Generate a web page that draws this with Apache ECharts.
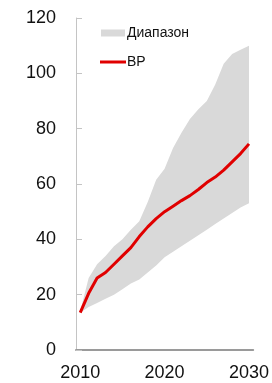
<!DOCTYPE html>
<html>
<head>
<meta charset="utf-8">
<script src="https://cdn.jsdelivr.net/npm/echarts@6/dist/echarts.min.js"></script>
<style>
    html, body { margin: 0; padding: 0; background: #fff; }
    #chart { width: 272px; height: 383px; }
</style>
</head>
<body>
<div id="chart"></div>
<script>
// годы
var years = ['2010', '2011', '2012', '2013', '2014', '2015', '2016', '2017', '2018', '2019', '2020',
    '2021', '2022', '2023', '2024', '2025', '2026', '2027', '2028', '2029', '2030'];
// прогноз BP
var bp = [13.5, 20.5, 26, 28, 31, 34, 37, 41, 44.5, 47.5, 50,
    52, 54, 55.8, 58, 60.5, 62.5, 65, 68, 71, 74.5];
// диапазон: нижняя и верхняя граница
var low = [13.5, 15.5, 17, 18.5, 20, 22, 24, 25.5, 28, 30.5, 33.5,
    35.5, 37.5, 39.5, 41.5, 43.5, 45.5, 47.5, 49.5, 51.5, 53];
var high = [14, 26, 31, 34, 37.5, 40, 43.5, 46.5, 53.5, 61.5, 65.5,
    73, 78.5, 83.5, 87, 90, 96, 103.5, 107, 108.5, 110];
var yTicks = [0, 20, 40, 60, 80, 100, 120];

var span = high.map(function (v, i) { return v - low[i]; });

var myChart = echarts.init(document.getElementById('chart'));
var font = 'Liberation Sans, Arial, sans-serif';

myChart.setOption({
    animation: false,
    textStyle: { fontFamily: font },
    grid: { left: 76, right: 18, top: 18, bottom: 33 },
    legend: [{
        data: ['Диапазон'],
        padding: 0,
        left: 101, top: 26,
        icon: 'rect',
        itemWidth: 24, itemHeight: 7,
        textStyle: { fontSize: 14, color: '#111', fontFamily: font, padding: [0, 0, 0, -3] }
    }, {
        data: ['BP'],
        padding: 0,
        left: 100, top: 55,
        icon: 'rect',
        itemWidth: 26, itemHeight: 3,
        textStyle: { fontSize: 14, color: '#111', fontFamily: font, padding: [0, 0, 0, -4] }
    }],
    xAxis: {
        type: 'category',
        data: years,
        boundaryGap: true,
        axisLine: { lineStyle: { color: '#9a9a9a', width: 2 } },
        axisTick: { show: false },
        axisLabel: { interval: 9, fontSize: 18, color: '#111', margin: 14 }
    },
    yAxis: {
        type: 'value',
        min: yTicks[0], max: yTicks[yTicks.length - 1], interval: 20,
        axisLine: { show: true, lineStyle: { color: '#c4c4c4', width: 1 } },
        axisTick: { show: true, inside: true, length: 6, lineStyle: { color: '#c4c4c4' } },
        splitLine: { show: false },
        axisLabel: { fontSize: 18, color: '#111', margin: 20 }
    },
    series: [{
        name: 'low',
        type: 'line',
        stack: 'band',
        data: low,
        symbol: 'none',
        lineStyle: { opacity: 0 },
        silent: true
    }, {
        name: 'Диапазон',
        type: 'line',
        stack: 'band',
        data: span,
        symbol: 'none',
        color: '#d9d9d9',
        lineStyle: { opacity: 0 },
        areaStyle: { color: '#d9d9d9', opacity: 1 }
    }, {
        name: 'BP',
        type: 'line',
        data: bp,
        symbol: 'none',
        color: '#e00000',
        lineStyle: { color: '#e00000', width: 3 }
    }]
});
</script>
</body>
</html>
